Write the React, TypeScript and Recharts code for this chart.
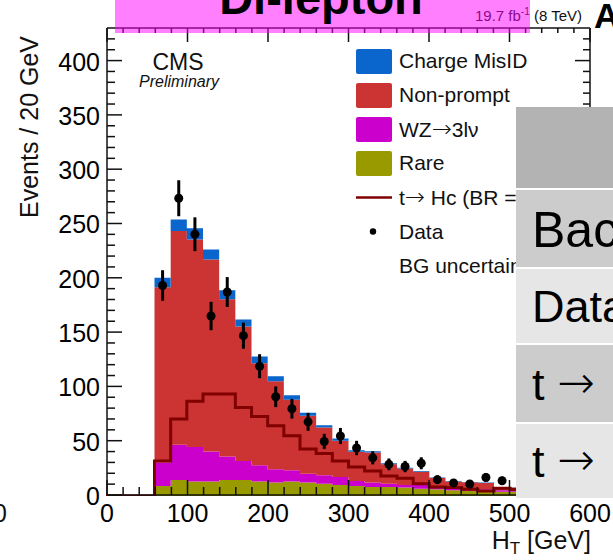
import React from "react";
import { Area, ComposedChart, ErrorBar, Legend, Line, Scatter, XAxis, YAxis } from "recharts";

const FONT = '"Liberation Sans", Arial, Helvetica, sans-serif';
const ARROW_FONT = '"DejaVu Sans", sans-serif';

// lower edges of the 20 GeV bins shown in the plot
const binEdges = [0, 20, 40, 60, 80, 100, 120, 140, 160, 180, 200, 220, 240, 260, 280, 300, 320, 340, 360, 380, 400, 420, 440, 460, 480, 500];

// stacked backgrounds, events per bin
const rare = [0, 0, 0, 9.2, 14.7, 13.2, 13.2, 14.7, 14.7, 13.2, 12.3, 13.2, 12.3, 11.3, 10.1, 9.2, 8.3, 8.3, 7.7, 6.7, 6.1, 5.2, 4.6, 4.6, 4.0, 4.0];
const wz = [0, 0, 0, 21.5, 32.2, 31.8, 27.6, 21.5, 17.5, 15.0, 12.2, 10.4, 8.2, 7.7, 7.4, 4.6, 4.0, 3.0, 2.4, 3.4, 2.2, 2.5, 2.5, 1.5, 1.2, 1.2];
const nonPrompt = [0, 0, 0, 160.7, 196.0, 190.2, 176.0, 144.1, 123.3, 93.5, 80.7, 64.7, 53.1, 43.8, 33.1, 26.7, 27.5, 17.7, 15.1, 12.2, 8.1, 5.7, 5.4, 5.9, 2.8, 2.5];
const chargeMisId = [0, 0, 0, 8.6, 10.7, 10.2, 9.2, 8.3, 6.4, 6.2, 4.6, 4.0, 2.8, 2.0, 2.1, 1.5, 1.2, 1.0, 0.8, 0.7, 0.5, 0.4, 0.4, 0.3, 0.3, 0.3];

// t -> Hc signal (not stacked)
const signal = [0, 0, 0, 32.2, 70.5, 86.8, 93.5, 93.5, 81.2, 73.0, 64.4, 55.2, 43.0, 38.9, 32.2, 26.7, 23.0, 18.4, 16.3, 11.3, 8.3, 7.7, 6.1, 4.6, 7.1, 6.0];

// observed data at bin centres
const dataCenters = [70, 90, 110, 130, 150, 170, 190, 210, 230, 250, 270, 290, 310, 330, 350, 370, 390, 410, 430, 450, 470, 490];
const dataCounts = [193, 273, 240, 165, 187, 147, 119, 91, 80, 68, 50, 55, 44, 35, 29, 27, 30, 15, 12, 11, 17, 14];
const dataErrors = [14, 16.5, 15.5, 13, 13.7, 12, 11, 9.5, 9, 8.2, 7, 7.4, 6.6, 6, 5.4, 5.2, 5.5, 3.9, 3.5, 3.3, 4.1, 3.7];

const xTicks = Array.from({ length: 31 }, (_, i) => i * 20);
const yTicks = Array.from({ length: 43 }, (_, i) => i * 10);
const xDomain = [0, 600];
const yDomain = [0, 430];

const colors = { misId: "#0a66cc", nonPrompt: "#cc3333", wz: "#cc00cc", rare: "#999900", signal: "#800000" };

const histRows = binEdges.map((x, i) => ({
  x,
  rare: rare[i],
  wz: wz[i],
  nonPrompt: nonPrompt[i],
  misId: chargeMisId[i],
  signal: signal[i],
}));
// closing edge so stepAfter draws the last bin at full width
histRows.push({ ...histRows[histRows.length - 1], x: binEdges[binEdges.length - 1] + 20 });

const dataPoints = dataCenters.map((x, i) => ({ x, y: dataCounts[i], err: dataErrors[i] }));

// label parts: [before arrow, after arrow]; no arrow when the second part is missing
const legendItems = [
  { label: ["Charge MisID"], kind: "box", color: colors.misId },
  { label: ["Non-prompt"], kind: "box", color: colors.nonPrompt },
  { label: ["WZ", "3l\u03bd"], kind: "box", color: colors.wz },
  { label: ["Rare"], kind: "box", color: colors.rare },
  { label: ["t", " Hc (BR = 1%)"], kind: "line", color: colors.signal },
  { label: ["Data"], kind: "dot", color: "#000" },
  { label: ["BG uncertainty"], kind: "none", color: "#000" },
];

const W = 613;
const H = 560;
const plotMargin = { top: 27, right: 22, bottom: 64, left: 106 };
const tickColor = "#111";

function BottomTick(props: any) {
  const { x, y, payload } = props;
  const major = payload.value % 100 === 0;
  return (
    <g>
      <line x1={x} x2={x} y1={y} y2={y - (major ? 15 : 8)} stroke={tickColor} strokeWidth={1.5} />
      {major && (
        <text x={x} y={y + 27} textAnchor="middle" fontSize={25} fontFamily={FONT} fill="#000">
          {payload.value}
        </text>
      )}
    </g>
  );
}

function TopTick(props: any) {
  const { x, y, payload } = props;
  const major = payload.value % 100 === 0;
  return <line x1={x} x2={x} y1={y} y2={y + (major ? 14 : 5)} stroke={tickColor} strokeWidth={1.5} />;
}

function LeftTick(props: any) {
  const { x, y, payload } = props;
  const major = payload.value % 50 === 0;
  return (
    <g>
      <line x1={x} x2={x + (major ? 15 : 8)} y1={y} y2={y} stroke={tickColor} strokeWidth={1.5} />
      {major && (
        <text x={x - 7} y={y + 10} textAnchor="end" fontSize={25} fontFamily={FONT} fill="#000">
          {payload.value}
        </text>
      )}
    </g>
  );
}

function RightTick(props: any) {
  const { x, y, payload } = props;
  const major = payload.value % 50 === 0;
  return <line x1={x} x2={x - (major ? 15 : 7)} y1={y} y2={y} stroke={tickColor} strokeWidth={1.5} />;
}

function DataDot(props: any) {
  return <circle cx={props.cx} cy={props.cy} r={4.5} fill="#000" />;
}

function LegendBox() {
  return (
    <div style={{ fontFamily: FONT, fontSize: 21, color: "#111" }}>
      {legendItems.map((item) => (
        <div key={item.label.join("")} style={{ display: "flex", alignItems: "center", height: 34.1, whiteSpace: "nowrap" }}>
          <svg width={36} height={25} style={{ flex: "none" }}>
            {item.kind === "box" && <rect x={0} y={0} width={36} height={25} rx={2} fill={item.color} />}
            {item.kind === "line" && <line x1={0} x2={36} y1={12.5} y2={12.5} stroke={item.color} strokeWidth={2.5} />}
            {item.kind === "dot" && <circle cx={17} cy={12.5} r={3.2} fill={item.color} />}
          </svg>
          <span style={{ marginLeft: 7 }}>
            {item.label[0]}
            {item.label.length > 1 && <span style={{ fontFamily: ARROW_FONT, fontSize: 24, fontWeight: 200 }}>{"\u2192"}</span>}
            {item.label[1]}
          </span>
        </div>
      ))}
    </div>
  );
}

// ROOT-style frame: four axes with inward ticks, drawn as a separate layer over the histograms
function Frame() {
  const axisLine = { stroke: "#111", strokeWidth: 1.5 };
  return (
    <ComposedChart width={W} height={H} data={histRows} margin={plotMargin}>
      <XAxis dataKey="x" type="number" domain={xDomain} ticks={xTicks} interval={0} height={1} tickSize={0} tickMargin={0} tickLine={false} tick={<BottomTick />} axisLine={axisLine} allowDataOverflow />
      <XAxis xAxisId="top" orientation="top" dataKey="x" type="number" domain={xDomain} ticks={xTicks} interval={0} height={1} tickSize={0} tickMargin={0} tickLine={false} tick={<TopTick />} axisLine={axisLine} allowDataOverflow />
      <YAxis type="number" domain={yDomain} ticks={yTicks} interval={0} width={1} tickSize={0} tickMargin={0} tickLine={false} tick={<LeftTick />} axisLine={axisLine} allowDataOverflow />
      <YAxis yAxisId="right" orientation="right" type="number" domain={yDomain} ticks={yTicks} interval={0} width={1} tickSize={0} tickMargin={0} tickLine={false} tick={<RightTick />} axisLine={axisLine} allowDataOverflow />
    </ComposedChart>
  );
}

const tableRows = [
  { text: "", top: 107, height: 81, bg: "#b3b3b3", size: 46 },
  { text: "Bac", top: 190, height: 77, bg: "#cccccc", size: 50 },
  { text: "Data", top: 269, height: 74, bg: "#e6e6e6", size: 45 },
  { text: "t ", arrow: true, top: 345, height: 77, bg: "#cccccc", size: 45 },
  { text: "t ", arrow: true, top: 424, height: 74, bg: "#e6e6e6", size: 45 },
];

export default function App() {
  return (
    <div style={{ position: "fixed", left: 0, top: 0, width: W, height: H, overflow: "hidden", background: "#fff", fontFamily: FONT }}>
      <div style={{ position: "absolute", left: 0, top: 0 }}>
        <ComposedChart width={W} height={H} data={histRows} margin={plotMargin}>
          <XAxis dataKey="x" type="number" domain={xDomain} hide height={1} allowDataOverflow />
          <YAxis type="number" domain={yDomain} hide width={1} allowDataOverflow />
          <Area type="stepAfter" dataKey="rare" stackId="bg" fill={colors.rare} fillOpacity={1} stroke="none" isAnimationActive={false} />
          <Area type="stepAfter" dataKey="wz" stackId="bg" fill={colors.wz} fillOpacity={1} stroke="none" isAnimationActive={false} />
          <Area type="stepAfter" dataKey="nonPrompt" stackId="bg" fill={colors.nonPrompt} fillOpacity={1} stroke="none" isAnimationActive={false} />
          <Area type="stepAfter" dataKey="misId" stackId="bg" fill={colors.misId} fillOpacity={1} stroke="none" isAnimationActive={false} />
          <Line type="stepAfter" dataKey="signal" stroke={colors.signal} strokeWidth={3} dot={false} isAnimationActive={false} />
          <Scatter data={dataPoints} dataKey="y" fill="#000" shape={<DataDot />} isAnimationActive={false}>
            <ErrorBar dataKey="err" direction="y" width={0} stroke="#000" strokeWidth={3} />
          </Scatter>
          <Legend layout="vertical" align="center" verticalAlign="middle" wrapperStyle={{ left: 356, top: 44, width: 250 }} content={() => <LegendBox />} />
        </ComposedChart>
      </div>
      <div style={{ position: "absolute", left: 0, top: 0, zIndex: 2 }}>
        <Frame />
      </div>

      <svg width={W} height={H} style={{ position: "absolute", left: 0, top: 0, zIndex: 3, pointerEvents: "none" }} fontFamily={FONT}>
        <text x={38} y={218} transform="rotate(-90, 38, 218)" fontSize={25} fill="#111">
          Events / 20 GeV
        </text>
        <text x={591} y={549} textAnchor="end" fontSize={25} fill="#111">
          H<tspan fontSize={17} dy={5}>T</tspan>
          <tspan dy={-5}> [GeV]</tspan>
        </text>
        <text x={178} y={70} textAnchor="middle" fontSize={23} fill="#111">
          CMS
        </text>
        <text x={179} y={87} textAnchor="middle" fontSize={16} fontStyle="italic" fill="#111">
          Preliminary
        </text>
        <text x={582} y={21} textAnchor="end" fontSize={15} fill="#111">
          19.7 fb<tspan fontSize={10} dy={-6}>-1</tspan>
          <tspan dy={6}> (8 TeV)</tspan>
        </text>
        <text x={7} y={522} textAnchor="end" fontSize={25} fill="#111">
          0
        </text>
        <text x={594} y={28} fontSize={35} fontWeight="bold" fill="#000">
          A
        </text>
      </svg>

      <div style={{ position: "absolute", left: 115, top: 0, width: 415, height: 33, background: "rgba(255, 0, 255, 0.5)", zIndex: 5 }} />
      <svg width={W} height={40} style={{ position: "absolute", left: 0, top: 0, zIndex: 6, pointerEvents: "none" }}>
        <text x={321} y={14} textAnchor="middle" fontSize={47} fontWeight="bold" fontFamily={FONT} fill="#000">
          Di-lepton
        </text>
      </svg>

      {/* slide table laid over the right side; white shows through the row gaps */}
      <div style={{ position: "absolute", left: 516, top: 107, width: 140, height: 391, background: "#fff", zIndex: 7 }} />
      {tableRows.map((row, i) => (
        <div
          key={i}
          style={{ position: "absolute", left: 516, top: row.top, width: 140, height: row.height, background: row.bg, zIndex: 8 }}
        >
          {row.text && (
            <svg width={140} height={row.height} style={{ display: "block" }}>
              <text x={16} y={row.height / 2 + row.size * 0.36} fontSize={row.size} fontFamily={FONT} fill="#000">
                {row.text}
                {row.arrow && (
                  <tspan fontFamily={ARROW_FONT} fontWeight={200} dy={-2}>
                    {"\u2192"}
                  </tspan>
                )}
              </text>
            </svg>
          )}
        </div>
      ))}
    </div>
  );
}
